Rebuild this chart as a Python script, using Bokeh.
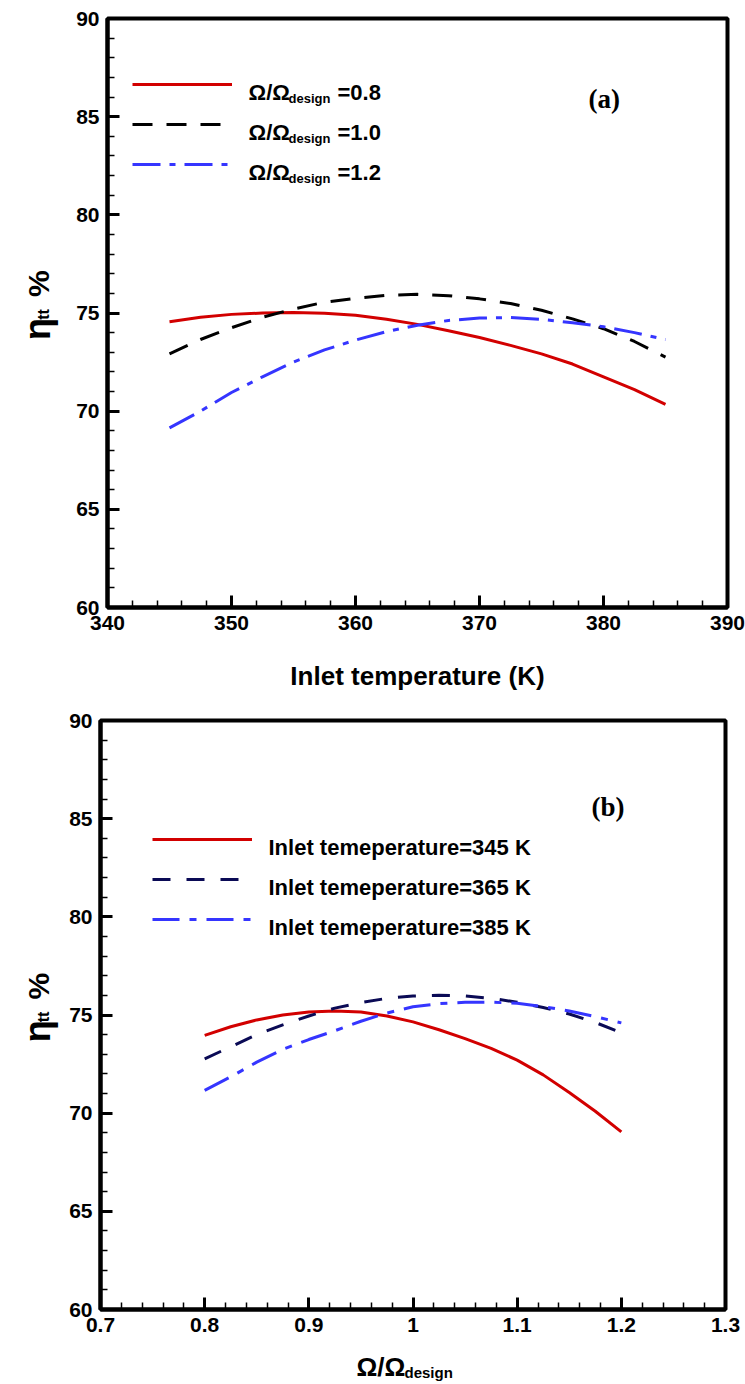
import numpy as np
from bokeh.plotting import figure
from bokeh.models import (Label, Legend, LegendItem, SingleIntervalTicker,
                          CustomJSTickFormatter, Range1d)
from bokeh.core.properties import value
from bokeh.layouts import column, row
from bokeh.embed import file_html
from bokeh.resources import INLINE

# ---------------- data: panel (a) ----------------
temp_a = [345, 347.5, 350, 352.5, 355, 357.5, 360, 362.5, 365,
          367.5, 370, 372.5, 375, 377.5, 380, 382.5, 385]
eta_speed08 = [74.55, 74.78, 74.93, 75.00, 75.03, 74.99, 74.88, 74.68, 74.42,
               74.10, 73.75, 73.35, 72.92, 72.40, 71.75, 71.10, 70.35]
eta_speed10 = [72.92, 73.65, 74.25, 74.78, 75.20, 75.55, 75.75, 75.90, 75.95,
               75.88, 75.72, 75.48, 75.14, 74.70, 74.20, 73.55, 72.75]
eta_speed12 = [69.15, 70.00, 70.95, 71.75, 72.50, 73.12, 73.62, 74.05, 74.38,
               74.62, 74.74, 74.77, 74.68, 74.50, 74.30, 74.00, 73.65]
legend_a_values = ["=0.8", "=1.0", "=1.2"]

# ---------------- data: panel (b) ----------------
speed_b = [0.8, 0.825, 0.85, 0.875, 0.9, 0.925, 0.95, 0.975, 1.0,
           1.025, 1.05, 1.075, 1.1, 1.125, 1.15, 1.175, 1.2]
eta_T345 = [73.96, 74.40, 74.75, 75.00, 75.15, 75.20, 75.15, 74.95, 74.65,
            74.25, 73.80, 73.30, 72.70, 71.95, 71.05, 70.10, 69.05]
eta_T365 = [72.77, 73.38, 74.00, 74.50, 74.95, 75.35, 75.63, 75.85, 75.97,
            76.00, 75.97, 75.85, 75.65, 75.38, 75.05, 74.62, 74.10]
eta_T385 = [71.16, 71.85, 72.60, 73.25, 73.75, 74.20, 74.68, 75.10, 75.42,
            75.58, 75.65, 75.65, 75.60, 75.43, 75.20, 74.92, 74.60]
legend_b_labels = ["Inlet temeperature=345 K", "Inlet temeperature=365 K",
                   "Inlet temeperature=385 K"]

RED = "#d20000"
BLUE = "#3535ff"
NAVY = "#0a0a55"
FONT = "Liberation Sans"
SERIF = "Liberation Serif"
W = 745
YT_W = 60          # width of the strip holding the rotated y titles


def make_fig(w, h, xr, yr, left, right, top, bottom, xint, yint):
    p = figure(width=w, height=h, x_range=xr, y_range=yr,
               output_backend="svg", toolbar_location=None,
               min_border_left=left, min_border_right=right,
               min_border_top=top, min_border_bottom=bottom)
    p.grid.visible = False
    p.outline_line_color = "black"
    p.outline_line_width = 4
    p.outline_line_alpha = 1
    p.background_fill_color = "white"
    p.border_fill_color = "white"
    p.xaxis.ticker = SingleIntervalTicker(interval=xint, num_minor_ticks=5)
    p.yaxis.ticker = SingleIntervalTicker(interval=yint, num_minor_ticks=5)
    for ax in (p.xaxis[0], p.yaxis[0]):
        ax.axis_line_width = 4
        ax.axis_line_color = "black"
        ax.major_tick_in = 12
        ax.major_tick_out = 0
        ax.minor_tick_in = 7
        ax.minor_tick_out = 0
        ax.major_tick_line_width = 3
        ax.minor_tick_line_width = 1.5
        ax.major_label_text_font = FONT
        ax.major_label_text_font_style = "bold"
        ax.major_label_text_font_size = "21px"
        ax.major_label_text_color = "black"
        ax.major_label_standoff = 8
    return p


def text_fig(w, h):
    """A blank strip whose data coordinates are its own pixels (origin bottom-left)."""
    t = figure(width=w, height=h, x_range=Range1d(0, w), y_range=Range1d(0, h),
               output_backend="svg", toolbar_location=None, min_border=0,
               x_axis_location=None, y_axis_location=None)
    t.grid.visible = False
    t.outline_line_color = None
    t.background_fill_color = "white"
    t.border_fill_color = "white"
    return t


def strip_text(t, page_top, px, py, txt, size, angle=0, align="left"):
    h = t.height
    t.text(x=[px], y=[h - (py - page_top)], text=[txt],
           text_font=value(FONT), text_font_size=value(f"{size}px"),
           text_font_style="bold", text_color="black",
           angle=np.deg2rad(angle), text_align=align,
           text_baseline="alphabetic")


class Mapper:
    """Converts page-pixel layout positions into a figure's data coordinates."""
    def __init__(self, fx0, fx1, fy0, fy1, xr, yr):
        self.fx0, self.fx1, self.fy0, self.fy1 = fx0, fx1, fy0, fy1
        self.xr, self.yr = xr, yr

    def x(self, px):
        return self.xr[0] + (px - self.fx0) / (self.fx1 - self.fx0) * (self.xr[1] - self.xr[0])

    def y(self, py):
        return self.yr[1] - (py - self.fy0) / (self.fy1 - self.fy0) * (self.yr[1] - self.yr[0])


def add_text(p, m, px, py, text, size, style="bold", font=FONT):
    p.add_layout(Label(x=m.x(px), y=m.y(py), text=text, text_font=font,
                       text_font_size=f"{size}px", text_font_style=style,
                       text_color="black", text_align="left",
                       text_baseline="alphabetic"))


def add_eta_title(t, page_top, cy):
    strip_text(t, page_top, 37, cy + 40, "η", 36, angle=90)
    strip_text(t, page_top, 43, cy + 18, "tt", 16, angle=90)
    strip_text(t, page_top, 38, cy - 7, "%", 30, angle=90)


def add_sample_legend(p, renderers, loc):
    leg = Legend(items=[LegendItem(label=" ", renderers=[r]) for r in renderers],
                 location=loc, glyph_width=100, glyph_height=40,
                 label_height=40, label_width=0, label_standoff=0,
                 spacing=0, padding=0, margin=0,
                 label_text_font_size="1px",
                 border_line_alpha=0, background_fill_alpha=0)
    p.add_layout(leg)


# ================= panel (a) =================
H1 = 645
xr_a, yr_a = (340, 390), (60, 90)
p1 = make_fig(W - YT_W, H1, xr_a, yr_a, 107 - YT_W, 18, 18, H1 - 607, 10, 5)
m1 = Mapper(107, 727, 18, 607, xr_a, yr_a)

ra1 = p1.line(temp_a, eta_speed08, line_color=RED, line_width=3)
ra2 = p1.line(temp_a, eta_speed10, line_color="black", line_width=3,
              line_dash="20 14")
ra3 = p1.line(temp_a, eta_speed12, line_color=BLUE, line_width=3,
              line_dash="28 9 6 9")
add_sample_legend(p1, [ra1, ra2, ra3], (25, 423))

for i, val in enumerate(legend_a_values):
    base = 92 + 40 * i
    add_text(p1, m1, 248, base, "Ω/Ω", 22)
    add_text(p1, m1, 288, base + 6, "design", 13)
    add_text(p1, m1, 337, base, val, 22)

add_text(p1, m1, 588, 98, "(a)", 27, font=SERIF)

ya = text_fig(YT_W, H1)
add_eta_title(ya, 0, 312)

XA_H = 55
xa = text_fig(W, XA_H)
strip_text(xa, H1, 417, 675, "Inlet temperature (K)", 26, align="center")

# ================= panel (b) =================
TOP_B = H1 + XA_H          # 700
H2 = 650
xr_b, yr_b = (0.7, 1.3), (60, 90)
p2 = make_fig(W - YT_W, H2, xr_b, yr_b, 100 - YT_W, 20, 720 - TOP_B,
              TOP_B + H2 - 1309, 0.1, 5)
p2.xaxis[0].formatter = CustomJSTickFormatter(
    code="var s = tick.toFixed(1); return s.endsWith('.0') ? s.slice(0, -2) : s;")
m2 = Mapper(100, 725, 720, 1309, xr_b, yr_b)

rb1 = p2.line(speed_b, eta_T345, line_color=RED, line_width=3)
rb2 = p2.line(speed_b, eta_T365, line_color=NAVY, line_width=3,
              line_dash="18 16")
rb3 = p2.line(speed_b, eta_T385, line_color=BLUE, line_width=3,
              line_dash="27 10 7 10")
add_sample_legend(p2, [rb1, rb2, rb3], (52, 370))

for i, lab in enumerate(legend_b_labels):
    add_text(p2, m2, 268, 847 + 40 * i, lab, 22)

add_text(p2, m2, 591, 806, "(b)", 27, font=SERIF)

yb = text_fig(YT_W, H2)
add_eta_title(yb, TOP_B, 1015)

XB_TOP = TOP_B + H2        # 1350
XB_H = 1384 - XB_TOP
xb = text_fig(W, XB_H)
strip_text(xb, XB_TOP, 356, 1366, "Ω/Ω", 26)
strip_text(xb, XB_TOP, 404, 1372, "design", 15)

layout = column(row(ya, p1, spacing=0), xa, row(yb, p2, spacing=0), xb,
                spacing=0)
open("out.html", "w").write(file_html(layout, INLINE))
